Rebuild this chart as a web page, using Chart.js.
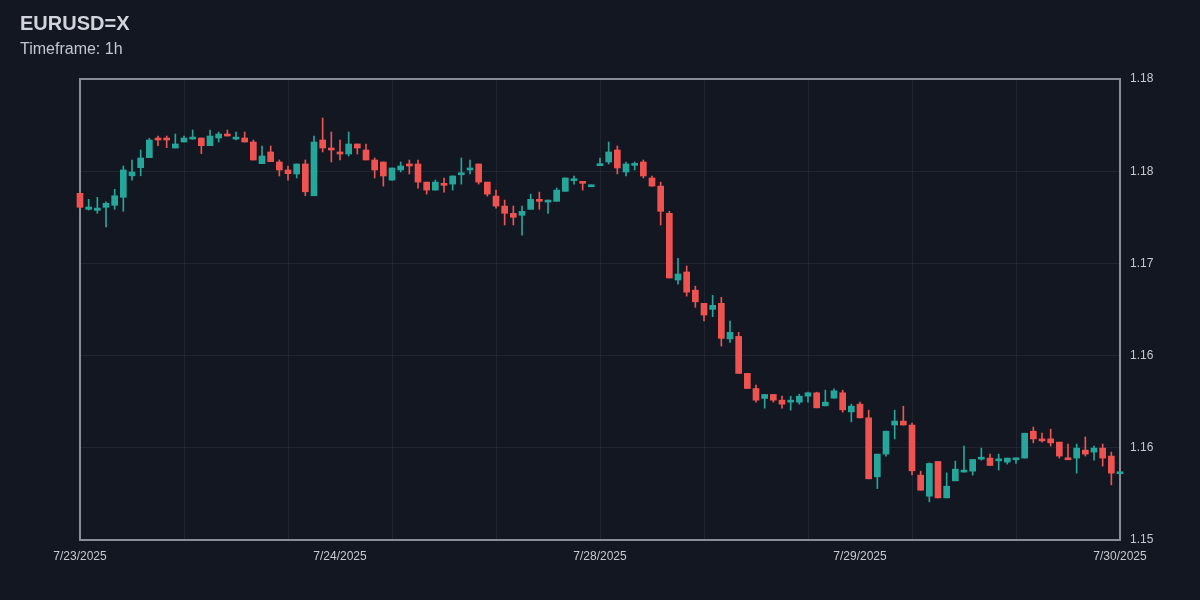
<!DOCTYPE html>
<html lang="en">
<head>
  <meta charset="UTF-8">
  <title>EURUSD=X</title>
  <script src="https://cdn.jsdelivr.net/npm/chart.js"></script>
  <style>
    body {
      margin: 0;
      background-color: #131722;
      font-family: Arial, 'Liberation Sans', sans-serif;
    }

    .wrap {
      position: relative;
      width: 1200px;
      height: 600px;
    }

    h1 {
      position: absolute;
      left: 20px;
      top: 12px;
      margin: 0;
      font-size: 20px;
      line-height: 22px;
      font-weight: bold;
      color: #d1d4dc;
    }

    .sub {
      position: absolute;
      left: 20px;
      top: 39px;
      font-size: 16px;
      line-height: 20px;
      color: #c4c7cf;
    }

    canvas {
      position: absolute;
      left: 0;
      top: 0;
    }
  </style>
</head>
<body>
  <div class="wrap">
    <canvas id="candles"></canvas>
    <h1>EURUSD=X</h1>
    <div class="sub">Timeframe: 1h</div>
  </div>

  <script>
    // hourly candles
    const opens = [
      1.17456, 1.17352, 1.17345, 1.17365, 1.17378, 1.17430, 1.17570, 1.17623, 1.17688, 1.17814,
      1.17814, 1.17751, 1.17790, 1.17809, 1.17816, 1.17766, 1.17816, 1.17842, 1.17809, 1.17816,
      1.17790, 1.17649, 1.17725, 1.17660, 1.17608, 1.17582, 1.17647, 1.17440, 1.17803, 1.17751,
      1.17725, 1.17712, 1.17777, 1.17738, 1.17673, 1.17660, 1.17542, 1.17608, 1.17647, 1.17647,
      1.17529, 1.17477, 1.17521, 1.17516, 1.17577, 1.17608, 1.17647, 1.17529, 1.17438, 1.17373,
      1.17326, 1.17313, 1.17352, 1.17417, 1.17399, 1.17404, 1.17469, 1.17538, 1.17529, 1.17499,
      1.17636, 1.17660, 1.17738, 1.17595, 1.17638, 1.17660, 1.17556, 1.17503, 1.17326, 1.16892,
      1.16944, 1.16826, 1.16740, 1.16701, 1.16740, 1.16509, 1.16525, 1.16284, 1.16186, 1.16121,
      1.16147, 1.16110, 1.16097, 1.16097, 1.16136, 1.16158, 1.16073, 1.16123, 1.16158, 1.16034,
      1.16084, 1.15995, 1.15611, 1.15759, 1.15948, 1.15974, 1.15948, 1.15622, 1.15485, 1.15711,
      1.15474, 1.15585, 1.15642, 1.15648, 1.15726, 1.15733, 1.15715, 1.15707, 1.15722, 1.15733,
      1.15908, 1.15858, 1.15858, 1.15837, 1.15733, 1.15733, 1.15785, 1.15772, 1.15798, 1.15746,
      1.15631
    ];
    const highs = [
      1.17460, 1.17417, 1.17430, 1.17401, 1.17482, 1.17634, 1.17673, 1.17738, 1.17814, 1.17829,
      1.17829, 1.17842, 1.17829, 1.17868, 1.17816, 1.17868, 1.17855, 1.17868, 1.17855, 1.17855,
      1.17803, 1.17764, 1.17764, 1.17673, 1.17634, 1.17647, 1.17673, 1.17829, 1.17946, 1.17855,
      1.17803, 1.17855, 1.17777, 1.17777, 1.17686, 1.17660, 1.17621, 1.17660, 1.17673, 1.17673,
      1.17529, 1.17542, 1.17556, 1.17569, 1.17686, 1.17673, 1.17647, 1.17529, 1.17477, 1.17412,
      1.17373, 1.17373, 1.17451, 1.17464, 1.17412, 1.17490, 1.17556, 1.17569, 1.17529, 1.17510,
      1.17686, 1.17790, 1.17764, 1.17660, 1.17660, 1.17673, 1.17569, 1.17529, 1.17339, 1.17033,
      1.16983, 1.16852, 1.16740, 1.16792, 1.16779, 1.16625, 1.16551, 1.16284, 1.16208, 1.16147,
      1.16147, 1.16136, 1.16136, 1.16149, 1.16162, 1.16162, 1.16175, 1.16184, 1.16175, 1.16084,
      1.16097, 1.16045, 1.15759, 1.15908, 1.16045, 1.16071, 1.15961, 1.15648, 1.15702, 1.15711,
      1.15637, 1.15713, 1.15811, 1.15724, 1.15798, 1.15759, 1.15759, 1.15733, 1.15733, 1.15895,
      1.15935, 1.15895, 1.15921, 1.15837, 1.15824, 1.15824, 1.15871, 1.15811, 1.15824, 1.15772,
      1.15642
    ];
    const lows = [
      1.17360, 1.17347, 1.17326, 1.17238, 1.17352, 1.17339, 1.17542, 1.17570, 1.17688, 1.17766,
      1.17753, 1.17751, 1.17790, 1.17809, 1.17714, 1.17766, 1.17790, 1.17829, 1.17803, 1.17790,
      1.17673, 1.17649, 1.17662, 1.17569, 1.17542, 1.17556, 1.17440, 1.17440, 1.17725, 1.17660,
      1.17673, 1.17699, 1.17712, 1.17673, 1.17556, 1.17503, 1.17542, 1.17595, 1.17582, 1.17490,
      1.17451, 1.17477, 1.17464, 1.17477, 1.17516, 1.17582, 1.17516, 1.17438, 1.17360, 1.17250,
      1.17250, 1.17184, 1.17352, 1.17352, 1.17326, 1.17404, 1.17469, 1.17516, 1.17477, 1.17499,
      1.17636, 1.17647, 1.17582, 1.17569, 1.17608, 1.17556, 1.17503, 1.17250, 1.16905, 1.16865,
      1.16787, 1.16714, 1.16625, 1.16653, 1.16462, 1.16486, 1.16284, 1.16186, 1.16097, 1.16058,
      1.16097, 1.16058, 1.16045, 1.16084, 1.16097, 1.16060, 1.16073, 1.16123, 1.16032, 1.15969,
      1.15995, 1.15598, 1.15535, 1.15746, 1.15858, 1.15948, 1.15624, 1.15524, 1.15448, 1.15474,
      1.15474, 1.15585, 1.15642, 1.15622, 1.15720, 1.15685, 1.15655, 1.15694, 1.15698, 1.15733,
      1.15832, 1.15837, 1.15811, 1.15733, 1.15722, 1.15635, 1.15746, 1.15720, 1.15681, 1.15559,
      1.15631
    ];
    const closes = [
      1.17365, 1.17367, 1.17360, 1.17391, 1.17440, 1.17608, 1.17595, 1.17686, 1.17803, 1.17803,
      1.17803, 1.17777, 1.17816, 1.17822, 1.17766, 1.17829, 1.17842, 1.17829, 1.17822, 1.17790,
      1.17673, 1.17699, 1.17662, 1.17608, 1.17584, 1.17647, 1.17466, 1.17790, 1.17751, 1.17738,
      1.17712, 1.17777, 1.17751, 1.17673, 1.17608, 1.17569, 1.17621, 1.17634, 1.17634, 1.17529,
      1.17477, 1.17529, 1.17508, 1.17569, 1.17590, 1.17621, 1.17529, 1.17451, 1.17373, 1.17326,
      1.17300, 1.17339, 1.17417, 1.17404, 1.17412, 1.17477, 1.17556, 1.17551, 1.17521, 1.17510,
      1.17647, 1.17725, 1.17621, 1.17647, 1.17647, 1.17569, 1.17503, 1.17339, 1.16905, 1.16931,
      1.16813, 1.16750, 1.16664, 1.16727, 1.16512, 1.16551, 1.16284, 1.16186, 1.16110, 1.16147,
      1.16110, 1.16084, 1.16110, 1.16136, 1.16158, 1.16060, 1.16097, 1.16171, 1.16047, 1.16071,
      1.15995, 1.15598, 1.15759, 1.15908, 1.15974, 1.15948, 1.15650, 1.15524, 1.15698, 1.15474,
      1.15550, 1.15661, 1.15655, 1.15724, 1.15739, 1.15685, 1.15726, 1.15733, 1.15733, 1.15895,
      1.15858, 1.15845, 1.15832, 1.15746, 1.15722, 1.15798, 1.15759, 1.15798, 1.15733, 1.15635,
      1.15642
    ];

    // x ticks: candle index -> date label
    const dateTickIndex = [0, 30, 60, 90, 120];
    const dateTickLabels = ['7/23/2025', '7/24/2025', '7/28/2025', '7/29/2025', '7/30/2025'];
    const priceTicks = [1.152, 1.158, 1.164, 1.170, 1.176, 1.182];

    const UP = '#26a69a';
    const DOWN = '#ef5350';
    const GRID = 'rgba(255, 255, 255, 0.06)';
    const TEXT = '#c8cad0';
    const gridEvery = 12;

    const candleColor = ctx => closes[ctx.dataIndex] >= opens[ctx.dataIndex] ? UP : DOWN;

    const wicks = highs.map((h, i) => ({ x: i, y: [lows[i], h] }));
    const bodies = opens.map((o, i) => ({ x: i, y: [o, closes[i]] }));

    // plot frame, drawn under the candles
    const frame = {
      id: 'frame',
      beforeDatasetsDraw(chart) {
        const { ctx, chartArea: a } = chart;
        ctx.save();
        ctx.strokeStyle = '#8a8d96';
        ctx.lineWidth = 2;
        ctx.strokeRect(a.left, a.top, a.right - a.left, a.bottom - a.top);
        ctx.restore();
      }
    };

    new Chart(document.getElementById('candles'), {
      type: 'bar',
      data: {
        datasets: [
          {
            data: wicks,
            backgroundColor: candleColor,
            barThickness: 1,
            grouped: false,
            borderWidth: 0,
            clip: false
          },
          {
            data: bodies,
            backgroundColor: candleColor,
            barThickness: 6,
            minBarLength: 2,
            grouped: false,
            borderWidth: 0,
            clip: false
          }
        ]
      },
      options: {
        responsive: true,
        maintainAspectRatio: false,
        animation: false,
        layout: { padding: { left: 80, top: 79, right: 0, bottom: 0 } },
        plugins: {
          legend: { display: false },
          tooltip: { enabled: false }
        },
        scales: {
          x: {
            type: 'linear',
            min: 0,
            max: 120,
            offset: false,
            afterBuildTicks: s => {
              const vals = new Set(dateTickIndex);
              for (let v = 0; v <= 120; v += gridEvery) vals.add(v);
              s.ticks = [...vals].sort((a, b) => a - b).map(v => ({ value: v }));
            },
            afterFit: s => { s.height = 60; },
            grid: {
              offset: false,
              drawTicks: false,
              color: c => (c.tick && c.tick.value % gridEvery === 0) ? GRID : 'transparent'
            },
            border: { display: false },
            ticks: {
              autoSkip: false,
              maxRotation: 0,
              padding: 9,
              color: TEXT,
              font: { family: 'Arial, Liberation Sans, sans-serif', size: 12 },
              callback: v => {
                const k = dateTickIndex.indexOf(v);
                return k >= 0 ? dateTickLabels[k] : '';
              }
            }
          },
          y: {
            position: 'right',
            min: priceTicks[0],
            max: priceTicks[priceTicks.length - 1],
            afterBuildTicks: s => { s.ticks = priceTicks.map(v => ({ value: v })); },
            afterFit: s => { s.width = 80; },
            grid: { color: GRID, drawTicks: false },
            border: { display: false },
            ticks: {
              padding: 10,
              color: TEXT,
              font: { family: 'Arial, Liberation Sans, sans-serif', size: 12 },
              callback: v => v.toFixed(2)
            }
          }
        }
      },
      plugins: [frame]
    });
  </script>
</body>
</html>
